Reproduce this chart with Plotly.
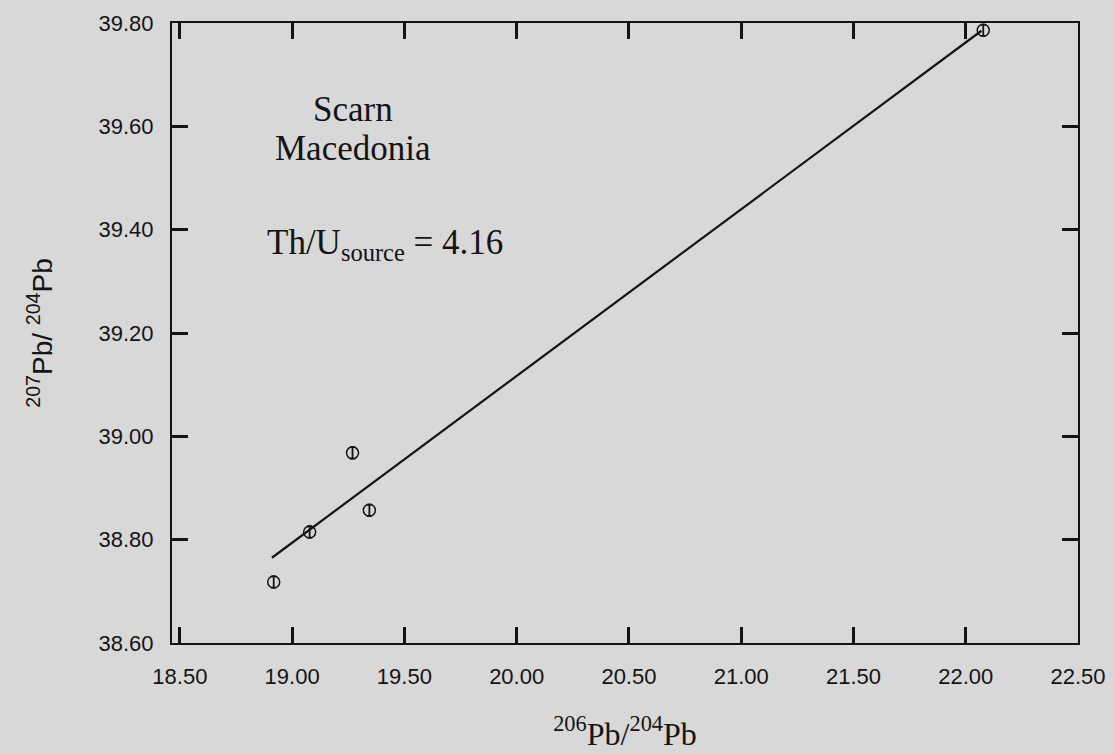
import plotly.graph_objects as go

# Data
pb206_204 = [18.918, 19.078, 19.269, 19.344, 22.078]
pb207_204 = [38.718, 38.815, 38.968, 38.857, 39.786]
pb_err = [0.011, 0.011, 0.011, 0.011, 0.011]

fit_x = [18.91, 22.07]
fit_y = [38.765, 39.785]

x_ticks = [18.5, 19.0, 19.5, 20.0, 20.5, 21.0, 21.5, 22.0, 22.5]
y_ticks = [38.6, 38.8, 39.0, 39.2, 39.4, 39.6, 39.8]

bg = "#d8d8d8"
ink = "#141414"

fig = go.Figure()
fig.add_trace(go.Scatter(
    x=fit_x, y=fit_y, mode="lines",
    line=dict(color=ink, width=2.2), showlegend=False, hoverinfo="skip"))
fig.add_trace(go.Scatter(
    x=pb206_204, y=pb207_204, mode="markers",
    marker=dict(symbol="circle-open", size=12, color=ink, line=dict(width=1.5, color=ink)),
    error_y=dict(type="data", array=pb_err, visible=True, color=ink, thickness=1.8, width=2.5),
    showlegend=False))

fig.add_annotation(x=19.271, y=39.632, xref="x", yref="y", text="Scarn", showarrow=False,
                   font=dict(family="Liberation Serif", size=35, color=ink))
fig.add_annotation(x=19.271, y=39.558, xref="x", yref="y", text="Macedonia", showarrow=False,
                   font=dict(family="Liberation Serif", size=35, color=ink))
fig.add_annotation(x=18.877, y=39.372, xref="x", yref="y", xanchor="left",
                   text="Th/U<sub>source</sub> = 4.16", showarrow=False,
                   font=dict(family="Liberation Serif", size=35, color=ink))

axis_common = dict(
    showline=True, linecolor=ink, linewidth=2, mirror="ticks",
    ticks="inside", ticklen=16, tickwidth=2.5, tickcolor=ink,
    showgrid=False, zeroline=False, tickformat=".2f", automargin=False,
    tickfont=dict(family="Liberation Sans", size=22, color=ink),
)

fig.update_xaxes(range=[18.465, 22.5], tickvals=x_ticks, ticklabelstandoff=13,
                 title=dict(text="<sup>206</sup>Pb/<sup>204</sup>Pb", standoff=34,
                            font=dict(family="Liberation Serif", size=32, color=ink)),
                 **axis_common)
fig.update_yaxes(range=[38.6, 39.8], tickvals=y_ticks, ticklabelstandoff=12,
                 title=dict(text="<sup>207</sup>Pb/ <sup>204</sup>Pb", standoff=38,
                            font=dict(family="Liberation Sans", size=28, color=ink)),
                 **axis_common)

fig.update_layout(
    width=1114, height=754,
    margin=dict(l=172, r=36, t=23, b=111, autoexpand=False),
    paper_bgcolor=bg, plot_bgcolor=bg,
)

fig.write_html(
    "out.html",
    config={"displayModeBar": False},
    post_script="document.body.style.margin='0px';document.body.style.background='" + bg + "';",
)
